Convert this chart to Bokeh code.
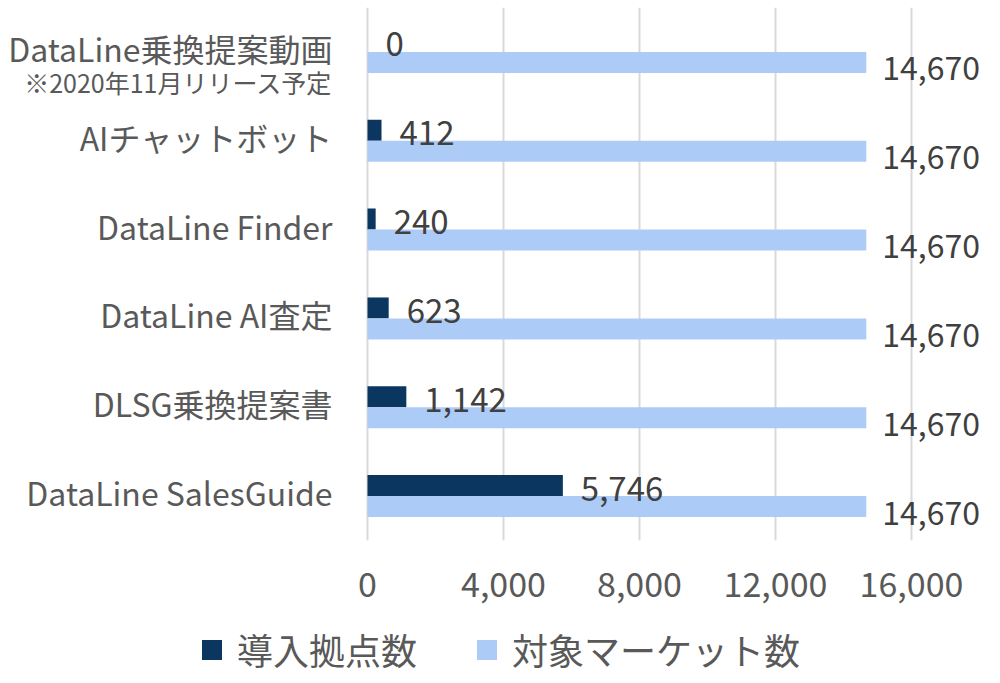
from bokeh.plotting import figure
from bokeh.layouts import column
from bokeh.models import (FactorRange, Range1d, FixedTicker, NumeralTickFormatter,
                          Legend, LegendItem, ColumnDataSource)
from bokeh.transform import dodge
from bokeh.core.properties import value
from bokeh.embed import file_html
from bokeh.resources import INLINE

# ---- data (top to bottom) ----
categories = ["DataLine乗換提案動画", "AIチャットボット", "DataLine Finder",
              "DataLine AI査定", "DLSG乗換提案書", "DataLine SalesGuide"]
sub_note = ["※2020年11月リリース予定"]
sub_note_cat = ["DataLine乗換提案動画"]
installed = [0, 412, 240, 623, 1142, 5746]
market = [14670, 14670, 14670, 14670, 14670, 14670]
x_ticks = [0, 4000, 8000, 12000, 16000]
series_names = ["導入拠点数", "対象マーケット数"]

FONT = "Noto Sans CJK JP"
DARK = "#0A3660"
LIGHT = "#ADCBF7"
TXT = "#595959"
VAL = "#404040"

src = ColumnDataSource(dict(
    cat=categories,
    zero=[0] * len(categories),
    installed=installed,
    market=market,
    installed_lbl=[f"{v:,}" for v in installed],
    market_lbl=[f"{v:,}" for v in market],
))
note_src = ColumnDataSource(dict(cat=sub_note_cat, zero=[0], txt=sub_note))

factors = categories[::-1]
PX_PER_UNIT = 136 / 4000.0      # 4000 units per 136 px
LEFT_PX, RIGHT_PX = 367, 617     # frame pixels left / right of zero
p = figure(width=984, height=617,
           y_range=FactorRange(factors=factors),
           x_range=Range1d(-LEFT_PX / PX_PER_UNIT, RIGHT_PX / PX_PER_UNIT),
           output_backend="svg", toolbar_location=None,
           min_border_left=0, min_border_right=0,
           min_border_top=7, min_border_bottom=77)

BAR_H = 0.236
OFF = 0.118
r1 = p.hbar(y=dodge("cat", OFF, range=p.y_range), left=0, right="installed",
            height=BAR_H, source=src, fill_color=DARK, line_color=None)
r2 = p.hbar(y=dodge("cat", -OFF, range=p.y_range), left=0, right="market",
            height=BAR_H, source=src, fill_color=LIGHT, line_color=None)

p.text(x="installed", y=dodge("cat", OFF, range=p.y_range), text="installed_lbl",
       x_offset=18, y_offset=3, text_align="left", text_baseline="middle",
       text_font=value(FONT), text_font_size="33px", text_color=VAL, source=src)
p.text(x="market", y=dodge("cat", -OFF, range=p.y_range), text="market_lbl",
       x_offset=16, y_offset=6, text_align="left", text_baseline="middle",
       text_font=value(FONT), text_font_size="32px", text_color=VAL, source=src)

# category labels (drawn left of the zero line)
p.text(x="zero", y="cat", text="cat", x_offset=-35, y_offset=-4,
       text_align="right", text_baseline="middle",
       text_font=value(FONT), text_font_size="32px", text_color=TXT, source=src)
p.text(x="zero", y="cat", text="txt", x_offset=-35, y_offset=30,
       text_align="right", text_baseline="middle",
       text_font=value(FONT), text_font_size="25px", text_color=TXT, source=note_src)

# axes
p.xaxis.ticker = FixedTicker(ticks=x_ticks)
p.xaxis.formatter = NumeralTickFormatter(format="0,0")
p.xaxis.axis_line_color = None
p.xaxis.major_tick_line_color = None
p.xaxis.minor_tick_line_color = None
p.xaxis.major_label_text_font = FONT
p.xaxis.major_label_text_font_size = "34px"
p.xaxis.major_label_text_color = TXT
p.xaxis.major_label_standoff = 25
p.yaxis.visible = False

p.xgrid.ticker = FixedTicker(ticks=x_ticks)
p.xgrid.grid_line_color = "#D9D9D9"
p.xgrid.grid_line_width = 2
p.ygrid.grid_line_color = None
p.outline_line_color = None
p.y_range.range_padding = 0

# ---- legend strip below the chart ----
lf = figure(width=984, height=58, x_range=Range1d(0, 1), y_range=Range1d(0, 1),
            output_backend="svg", toolbar_location=None,
            min_border_left=0, min_border_right=0,
            min_border_top=0, min_border_bottom=0)
lf.axis.visible = False
lf.grid.visible = False
lf.outline_line_color = None
# key swatch renderers: their single entry lies outside the strip's range,
# so only the legend swatches are seen
key_src = ColumnDataSource(dict(y=[-10], left=[-10], right=[-9]))
k1 = lf.hbar(y="y", left="left", right="right", height=0.5, source=key_src,
             fill_color=DARK, line_color=None)
k2 = lf.hbar(y="y", left="left", right="right", height=0.5, source=key_src,
             fill_color=LIGHT, line_color=None)

legend = Legend(items=[LegendItem(label=series_names[0], renderers=[k1]),
                       LegendItem(label=series_names[1], renderers=[k2])],
                orientation="horizontal", location=(199, 0),
                glyph_width=25, glyph_height=25, label_standoff=13, spacing=57,
                label_text_font=FONT, label_text_font_size="36px",
                label_text_color=TXT, border_line_color=None,
                background_fill_alpha=0, padding=0, margin=0)
lf.add_layout(legend, "center")

layout = column(p, lf, spacing=0)
open("out.html", "w").write(file_html(layout, INLINE))
